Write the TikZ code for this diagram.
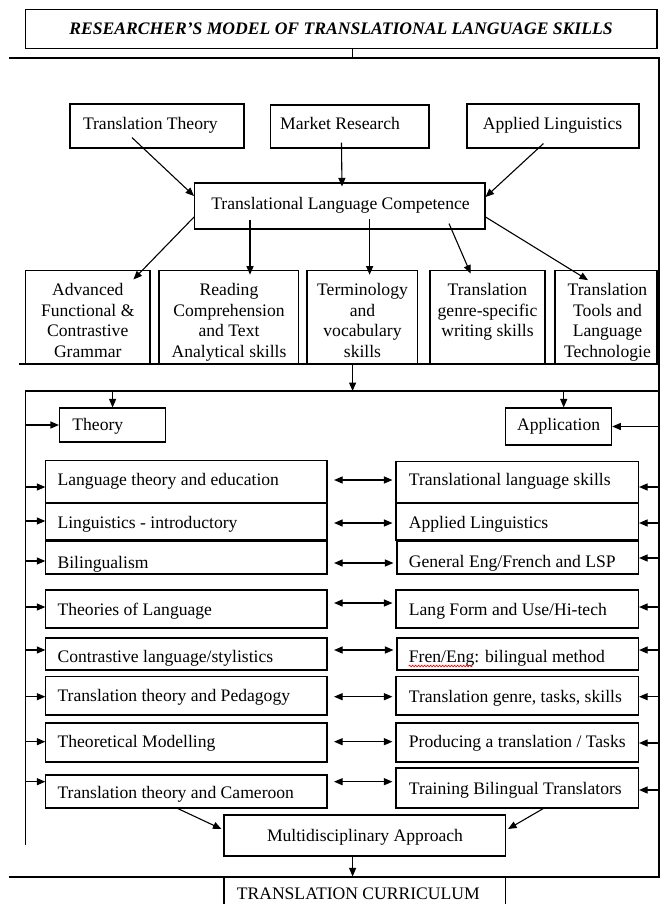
\documentclass[tikz,border=0pt]{standalone}
\usepackage{fontspec}
\setmainfont{Liberation Serif}
\usetikzlibrary{arrows.meta,calc,decorations.pathmorphing}
\newcommand\tbox[9]{%
  \node[frm, minimum width={#4-#2}, minimum height={#5-#3}] (#1) at ({(#2+#4)/2},{(#3+#5)/2}) {};
  \node[txt, #6] (#1t) at (#7,#8) {#9};
}
\begin{document}
\begin{tikzpicture}[x=1pt,y=-1pt,
  frm/.style={draw, line width=1.1pt, inner sep=0pt, anchor=center},
  ln/.style={line width=1.1pt},
  arr/.style={line width=1.1pt, -{Triangle[length=8.5pt,width=7pt]}},
  darr/.style={line width=1.1pt, {Triangle[length=8.5pt,width=7pt]}-{Triangle[length=8.5pt,width=7pt]}},
  squig/.style={red, line width=0.7pt, decorate, decoration={snake, amplitude=0.8pt, segment length=3pt}},
  txt/.style={inner sep=0pt, font=\fontsize{17.6}{20.7}\selectfont}]
\useasboundingbox (0,0) rectangle (666,904);
\clip (0,0) rectangle (666,904);
\fill[white] (0,0) rectangle (666,904);

% title
\tbox{title}{25.5}{9.3}{657}{48.5}{anchor=base}{341}{34.5}{\bfseries\itshape RESEARCHER’S MODEL OF TRANSLATIONAL LANGUAGE SKILLS}

% outer frame
\coordinate (ftl) at (9.3,58);
\coordinate (ftr) at (659,58);
\coordinate (fbr) at (659,877);
\coordinate (fbl) at (9.3,877);
\draw[ln] (ftl) -- (ftr) -- (fbr) -- (fbl);
\coordinate (tc) at (352.6,58);
\draw[ln] (tc |- title.south) -- (tc);

% sources
\tbox{tt}{70}{104}{244}{148}{anchor=base west}{82.8}{129.5}{Translation Theory}
\tbox{mr}{270.6}{105}{429}{148}{anchor=base west}{280}{130}{Market Research}
\tbox{al}{467}{104}{639}{148}{anchor=base}{552.5}{130}{Applied Linguistics}
\tbox{tlc}{194.6}{183}{485}{229}{anchor=base}{340.5}{209.5}{Translational Language Competence}

% skill row
\tbox{b1}{25.5}{270.7}{150}{364}{anchor=north,align=center}{87.75}{283}{Advanced\\Functional \&\\Contrastive\\Grammar}
\tbox{b2}{159}{270.7}{298.6}{364}{anchor=north,align=center}{229}{283}{Reading\\Comprehension\\and Text\\Analytical skills}
\tbox{b3}{307}{270.7}{417.6}{364}{anchor=north,align=center}{362.5}{283}{Terminology\\and\\vocabulary\\skills}
\tbox{b4}{430}{270.7}{545}{364}{anchor=north,align=center}{487.5}{283}{Translation\\genre-specific\\writing skills}
\tbox{b5}{555}{270.7}{657}{364}{anchor=north,align=center}{607.5}{283}{Translation\\Tools and\\Language\\Technologie}
\coordinate (rowl) at (19,364);
\draw[ln] (rowl) -- (rowl -| fbr);

% arrows top section
\draw[arr] ($(tt.south west)+(62.5,-11)$) -- (tlc.west |- 0,196);
\draw[arr] ($(mr.south west)+(71.4,-6)$) -- ($(tlc.north -| 342,0)+(0,4)$);
\draw[arr] ($(al.south west)+(77,-5)$) -- (tlc.east |- 0,197);
\draw[arr] (tlc.west |- 0,217) -- ($(b1.north west)+(108.5,9.3)$);
\draw[arr] ($(tlc.south -| 250,0)+(0,-10)$) -- ($(b2.north -| 250,0)+(0,4.5)$);
\draw[arr] ($(tlc.south -| 369.6,0)+(0,-11)$) -- ($(b3.north -| 369.6,0)+(0,4.5)$);
\draw[arr] ($(tlc.south -| 449,0)+(0,-6)$) -- ($(b4.north -| 470.7,0)+(0,3.5)$);
\draw[arr] (tlc.east |- 0,217) -- ($(b5.north -| 588,0)+(0,10)$);

% inner frame
\coordinate (f2tl) at (25.5,391);
\coordinate (f2bl) at (25.5,845);
\draw[ln] (f2bl) -- (f2tl) -- (f2tl -| fbr);
\draw[arr] (b3.south -| 352.6,0) -- (f2tl -| 352.6,0);

\tbox{theory}{59.5}{408}{165.7}{442}{anchor=base west}{72.2}{430.5}{Theory}
\tbox{appl}{505.5}{408}{611.7}{445}{anchor=base}{558.6}{430.5}{Application}
\draw[arr] (theory.north |- f2tl) -- (theory.north);
\draw[arr] (f2tl -| 563.7,0) -- (appl.north -| 563.7,0);
\draw[arr] (f2tl |- theory.west) -- (theory.west);
\draw[arr] (fbr |- appl.east) -- (appl.east);

% theory column
\tbox{l1}{45.9}{460.7}{327}{503}{anchor=base west}{57.4}{485.5}{Language theory and education}
\tbox{l2}{45.9}{503}{327}{540}{anchor=base west}{57.4}{528.5}{Linguistics - introductory}
\tbox{l3}{45.9}{541}{327}{574}{anchor=base west}{57.4}{568.5}{Bilingualism}
\tbox{l4}{45.9}{590}{327}{628}{anchor=base west}{57.4}{615.5}{Theories of Language}
\tbox{l5}{45.9}{638}{327}{670}{anchor=base west}{57.4}{662.5}{Contrastive language/stylistics}
\tbox{l6}{45.9}{676.7}{327}{715}{anchor=base west}{57.4}{701}{Translation theory and Pedagogy}
\tbox{l7}{45.9}{723}{327}{762}{anchor=base west}{57.4}{747}{Theoretical Modelling}
\tbox{l8}{45.9}{775}{327}{808}{anchor=base west}{57.4}{798.5}{Translation theory and Cameroon}

% application column
\tbox{r1}{396}{461.7}{638.5}{503}{anchor=base west}{408.7}{485.5}{Translational language skills}
\tbox{r2}{396}{503}{638.5}{540}{anchor=base west}{408.7}{528.5}{Applied Linguistics}
\tbox{r3}{397}{541}{638.5}{574}{anchor=base west}{408.7}{567}{General Eng/French and LSP}
\tbox{r4}{396}{590}{638.5}{628}{anchor=base west}{408.7}{615.5}{Lang Form and Use/Hi-tech}
\tbox{r5}{397}{638}{638.5}{670}{anchor=base west}{408.7}{662.5}{Fren/Eng: bilingual method}
\tbox{r6}{396}{676.7}{638.5}{715}{anchor=base west}{408.7}{702}{Translation genre, tasks, skills}
\tbox{r7}{396}{723}{638.5}{762}{anchor=base west}{408.7}{747}{Producing a translation / Tasks}
\tbox{r8}{396}{768}{638.5}{808}{anchor=base west}{408.7}{794.5}{Training Bilingual Translators}
\draw[squig] ($(r5t.base west)+(0,3.5)$) -- ($(r5t.base west)+(64,3.5)$);

\foreach \i/\yl/\yr/\yd in {1/487/487/480, 2/521/523/523, 3/561/558/563, 4/607/607/603, 5/650/650/650, 6/696.7/696.7/696.7, 7/741.7/743/741.7, 8/781.7/790/781.7}{
  \draw[arr] (f2tl |- 0,\yl) -- (l\i.west |- 0,\yl);
  \draw[arr] (fbr |- 0,\yr) -- (r\i.east |- 0,\yr);
  \draw[darr] ($(l\i.east |- 0,\yd)+(6.5,0)$) -- ($(r\i.west |- 0,\yd)+(-3,0)$);
}

% bottom
\tbox{multi}{224}{815}{505.5}{856}{anchor=base}{365}{841.5}{Multidisciplinary Approach}
\tbox{tcur}{224}{877}{505.5}{920}{anchor=base west}{236.6}{899}{TRANSLATION CURRICULUM}
\draw[arr] ($(l8.south west)+(132.5,0)$) -- ($(multi.west |- 0,829)+(-2,0)$);
\draw[arr] ($(r8.south west)+(147.8,0)$) -- ($(multi.east |- 0,829)+(2,0)$);
\draw[arr] (multi.south -| 352.6,0) -- (tcur.north -| 352.6,0);
\end{tikzpicture}
\end{document}
